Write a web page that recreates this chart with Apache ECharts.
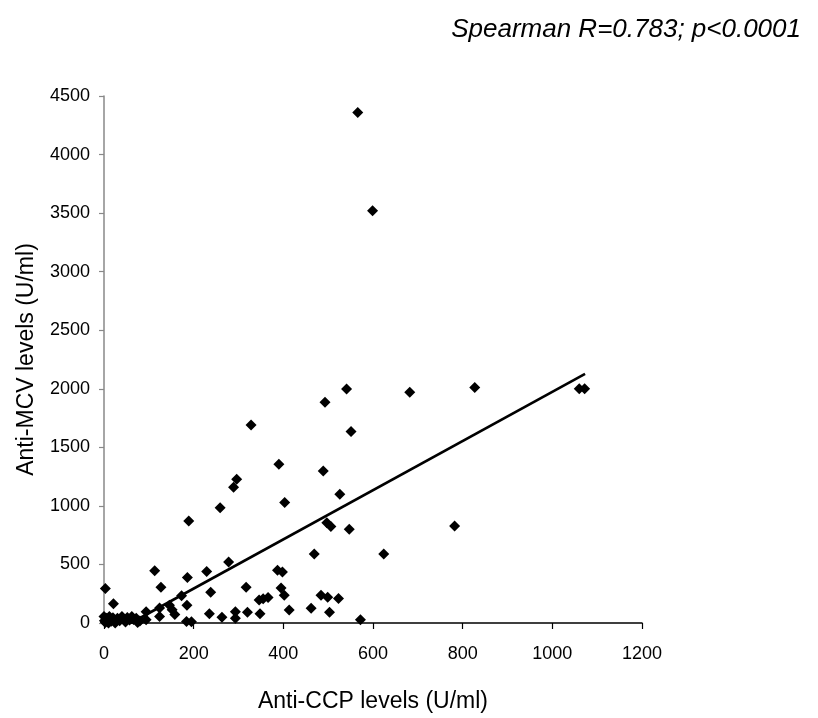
<!DOCTYPE html>
<html>
<head>
<meta charset="utf-8">
<script src="https://cdn.jsdelivr.net/npm/echarts@6/dist/echarts.min.js"></script>
<style>
html,body{margin:0;padding:0;background:#fff;}
#chart{width:818px;height:718px;}
</style>
</head>
<body>
<div id="chart"></div>
<script>
// Anti-CCP levels (x) and Anti-MCV levels (y)
const antiCCP = [566, 599, 1060, 1072, 827, 682, 541, 493, 551, 328, 390, 489, 296, 289, 526, 403, 259, 189, 497, 506, 547, 782, 469, 624, 278, 229, 113, 186, 387, 398, 3, 127, 317, 238, 395, 402, 346, 355, 366, 173, 21, 124, 146, 152, 158, 185, 94, 94, 124, 235, 263, 293, 293, 320, 348, 413, 462, 503, 572, 484, 499, 523, 184, 195, 75, 72, 0, 1, 3, 6, 10, 12, 16, 20, 25, 30, 35, 40, 44, 48, 52, 57, 62, 66, 80];
const antiMCV = [4360, 3520, 2000, 2000, 2010, 1970, 1998, 1885, 1635, 1690, 1355, 1298, 1228, 1160, 1100, 1028, 985, 872, 857, 823, 800, 828, 590, 590, 520, 440, 446, 388, 450, 435, 295, 305, 305, 262, 298, 236, 196, 208, 218, 232, 165, 128, 152, 113, 72, 152, 97, 28, 55, 78, 50, 97, 40, 92, 78, 112, 126, 92, 28, 238, 220, 210, 12, 10, 5, 40, 55, 20, 5, 40, 0, 55, 15, 45, 0, 40, 20, 55, 35, 8, 48, 25, 55, 30, 18];
// Linear trend line end points (x, y)
const trendX = [60, 1073];
const trendY = [0, 2128];
const xTicks = [0, 200, 400, 600, 800, 1000, 1200];
const yTicks = [0, 500, 1000, 1500, 2000, 2500, 3000, 3500, 4000, 4500];

const points = antiCCP.map((x, i) => [x, antiMCV[i]]);
const trend = trendX.map((x, i) => [x, trendY[i]]);

const chart = echarts.init(document.getElementById('chart'), null, {renderer: 'canvas'});
const font = 'Liberation Sans, Arial, sans-serif';
chart.setOption({
  animation: false,
  backgroundColor: '#ffffff',
  title: {
    text: 'Spearman R=0.783; p<0.0001',
    right: 12,
    top: 12,
    textStyle: {fontFamily: font, fontStyle: 'italic', fontWeight: 'normal', fontSize: 26, color: '#000'}
  },
  grid: {left: 104, top: 96, right: 176, bottom: 85.5, containLabel: false},
  xAxis: {
    type: 'value',
    min: xTicks[0], max: xTicks[xTicks.length - 1], interval: 200,
    name: 'Anti-CCP levels (U/ml)',
    nameLocation: 'middle',
    nameGap: 67,
    nameTextStyle: {fontFamily: font, fontSize: 23, color: '#000'},
    axisLine: {show: true, onZero: false, lineStyle: {color: '#000', width: 1.5}},
    axisTick: {show: true, inside: false, length: 6, lineStyle: {color: '#000', width: 1.2}},
    axisLabel: {fontFamily: font, fontSize: 18, color: '#000', margin: 22, formatter: v => String(v)},
    splitLine: {show: false}
  },
  yAxis: {
    type: 'value',
    min: yTicks[0], max: yTicks[yTicks.length - 1], interval: 500,
    name: 'Anti-MCV levels (U/ml)',
    nameLocation: 'middle',
    nameGap: 66,
    nameTextStyle: {fontFamily: font, fontSize: 23, color: '#000'},
    axisLine: {show: true, onZero: false, lineStyle: {color: '#888', width: 1.5}},
    axisTick: {show: true, inside: false, length: 5, lineStyle: {color: '#888', width: 1.2}},
    axisLabel: {fontFamily: font, fontSize: 18, color: '#000', margin: 14, formatter: v => String(v)},
    splitLine: {show: false}
  },
  series: [
    {
      type: 'scatter',
      data: points,
      symbol: 'diamond',
      symbolSize: 11,
      itemStyle: {color: '#000', opacity: 1},
      z: 3
    },
    {
      type: 'line',
      data: trend,
      symbol: 'none',
      lineStyle: {color: '#000', width: 2.6},
      z: 2
    }
  ]
});
</script>
</body>
</html>
